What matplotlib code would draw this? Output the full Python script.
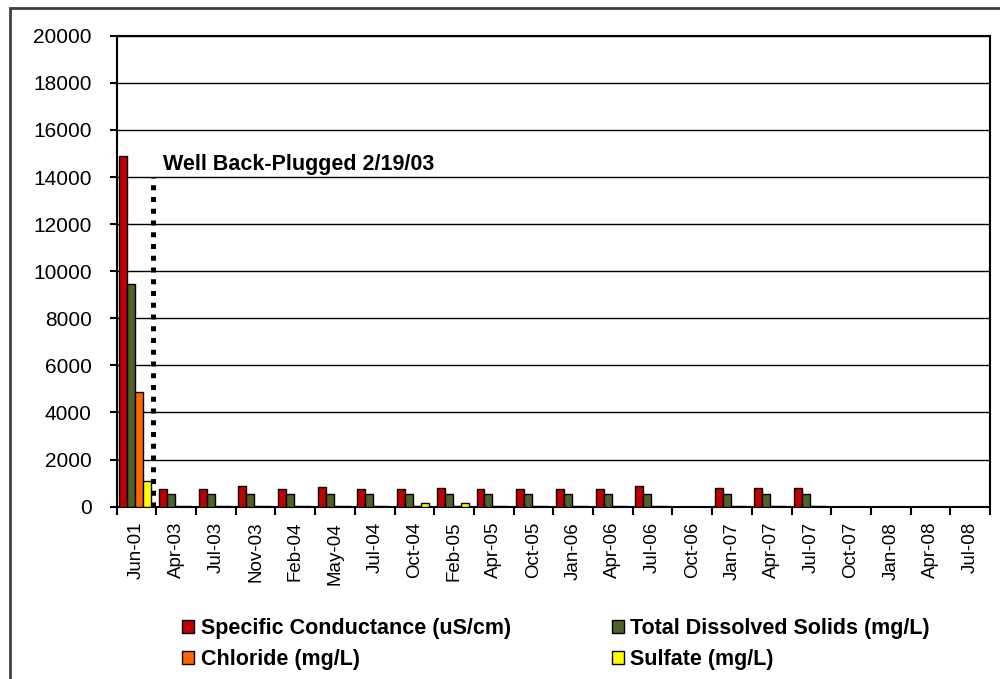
import numpy as np
import matplotlib.pyplot as plt
from matplotlib.patches import Rectangle

# Sampling dates
dates = ['Jun-01', 'Apr-03', 'Jul-03', 'Nov-03', 'Feb-04', 'May-04', 'Jul-04',
         'Oct-04', 'Feb-05', 'Apr-05', 'Oct-05', 'Jan-06', 'Apr-06', 'Jul-06',
         'Oct-06', 'Jan-07', 'Apr-07', 'Jul-07', 'Oct-07', 'Jan-08', 'Apr-08',
         'Jul-08']

nan = np.nan
# Specific conductance (uS/cm)
spec_cond = [14900, 770, 770, 880, 770, 850, 770, 770, 780, 770, 770, 770, 770,
             880, nan, 780, 780, 780, nan, nan, nan, nan]
# Total dissolved solids (mg/L)
tds = [9460, 540, 540, 540, 540, 540, 540, 540, 540, 540, 540, 540, 540,
       540, nan, 540, 540, 540, nan, nan, nan, nan]
# Chloride (mg/L)
chloride = [4860, 40, 40, 40, 40, 40, 40, 40, 40, 40, 40, 40, 40,
            40, nan, 40, 40, 40, nan, nan, nan, nan]
# Sulfate (mg/L)
sulfate = [1100, 40, 40, 40, 40, 40, 40, 160, 160, 40, 40, 40, 40,
           40, nan, 40, 40, 40, nan, nan, nan, nan]

series = [
    (spec_cond, 'Specific Conductance (uS/cm)', '#C00000'),
    (tds, 'Total Dissolved Solids (mg/L)', '#4F6228'),
    (chloride, 'Chloride (mg/L)', '#FF6600'),
    (sulfate, 'Sulfate (mg/L)', '#FFFF00'),
]

plug_label = 'Well Back-Plugged 2/19/03'

plt.rcParams['font.family'] = ['Liberation Sans', 'DejaVu Sans']

fig = plt.figure(figsize=(10, 6.79), dpi=100)
ax = fig.add_axes([0.1167, 0.2538, 0.8733, 0.6936])

x = np.arange(len(dates))
width = 0.2
offsets = [-0.335, -0.135, 0.065, 0.265]
handles = []
for (vals, name, color), off in zip(series, offsets):
    b = ax.bar(x + off, vals, width, color=color, edgecolor='black',
               linewidth=1.0, label=name, zorder=3)
    handles.append(b)

# Back-plug marker
ax.plot([0.414, 0.414], [0, 14000], color='black', linewidth=3.6,
        linestyle=(0, (1, 1.35)), zorder=4)
ax.text(0.66, 14300, plug_label, fontsize=15.5, fontweight='bold',
        va='baseline', ha='left', zorder=5)

ax.set_xlim(-0.5, len(dates) - 0.5)
ax.set_ylim(0, 20000)
ax.set_yticks(np.arange(0, 20001, 2000))
ax.yaxis.grid(True, color='black', linewidth=1.0, zorder=0)
ax.set_axisbelow(True)

ax.set_xticks(x)
ax.set_xticklabels(dates, rotation=90, fontsize=13.5)
ax.set_xticks(np.arange(-0.5, len(dates), 1), minor=True)
ax.tick_params(axis='x', which='major', length=0, pad=11)
ax.tick_params(axis='x', which='minor', length=6, width=1.5, direction='out')
ax.tick_params(axis='y', length=5, width=1.5, direction='out', pad=13,
               labelsize=15)

for side in ['left', 'bottom', 'right', 'top']:
    ax.spines[side].set_linewidth(1.5)
    ax.spines[side].set_color('black')

# legend fills column by column: SC/Chloride, then TDS/Sulfate
leg_order = [0, 2, 1, 3]
fig.legend(handles=[handles[i] for i in leg_order], ncol=2, loc='upper left',
           bbox_to_anchor=(0.163, 0.118), frameon=False,
           prop={'weight': 'bold', 'size': 15.5},
           handlelength=0.55, handleheight=0.55, handletextpad=0.3,
           columnspacing=4.7, labelspacing=0.45)

# Chart area border
fig.add_artist(Rectangle((0.010, -0.1), 1.2, 1.1 - 8 / 679,
                         transform=fig.transFigure, fill=False,
                         edgecolor='#404040', linewidth=2, clip_on=False))

fig.savefig('out.png', dpi=100)
